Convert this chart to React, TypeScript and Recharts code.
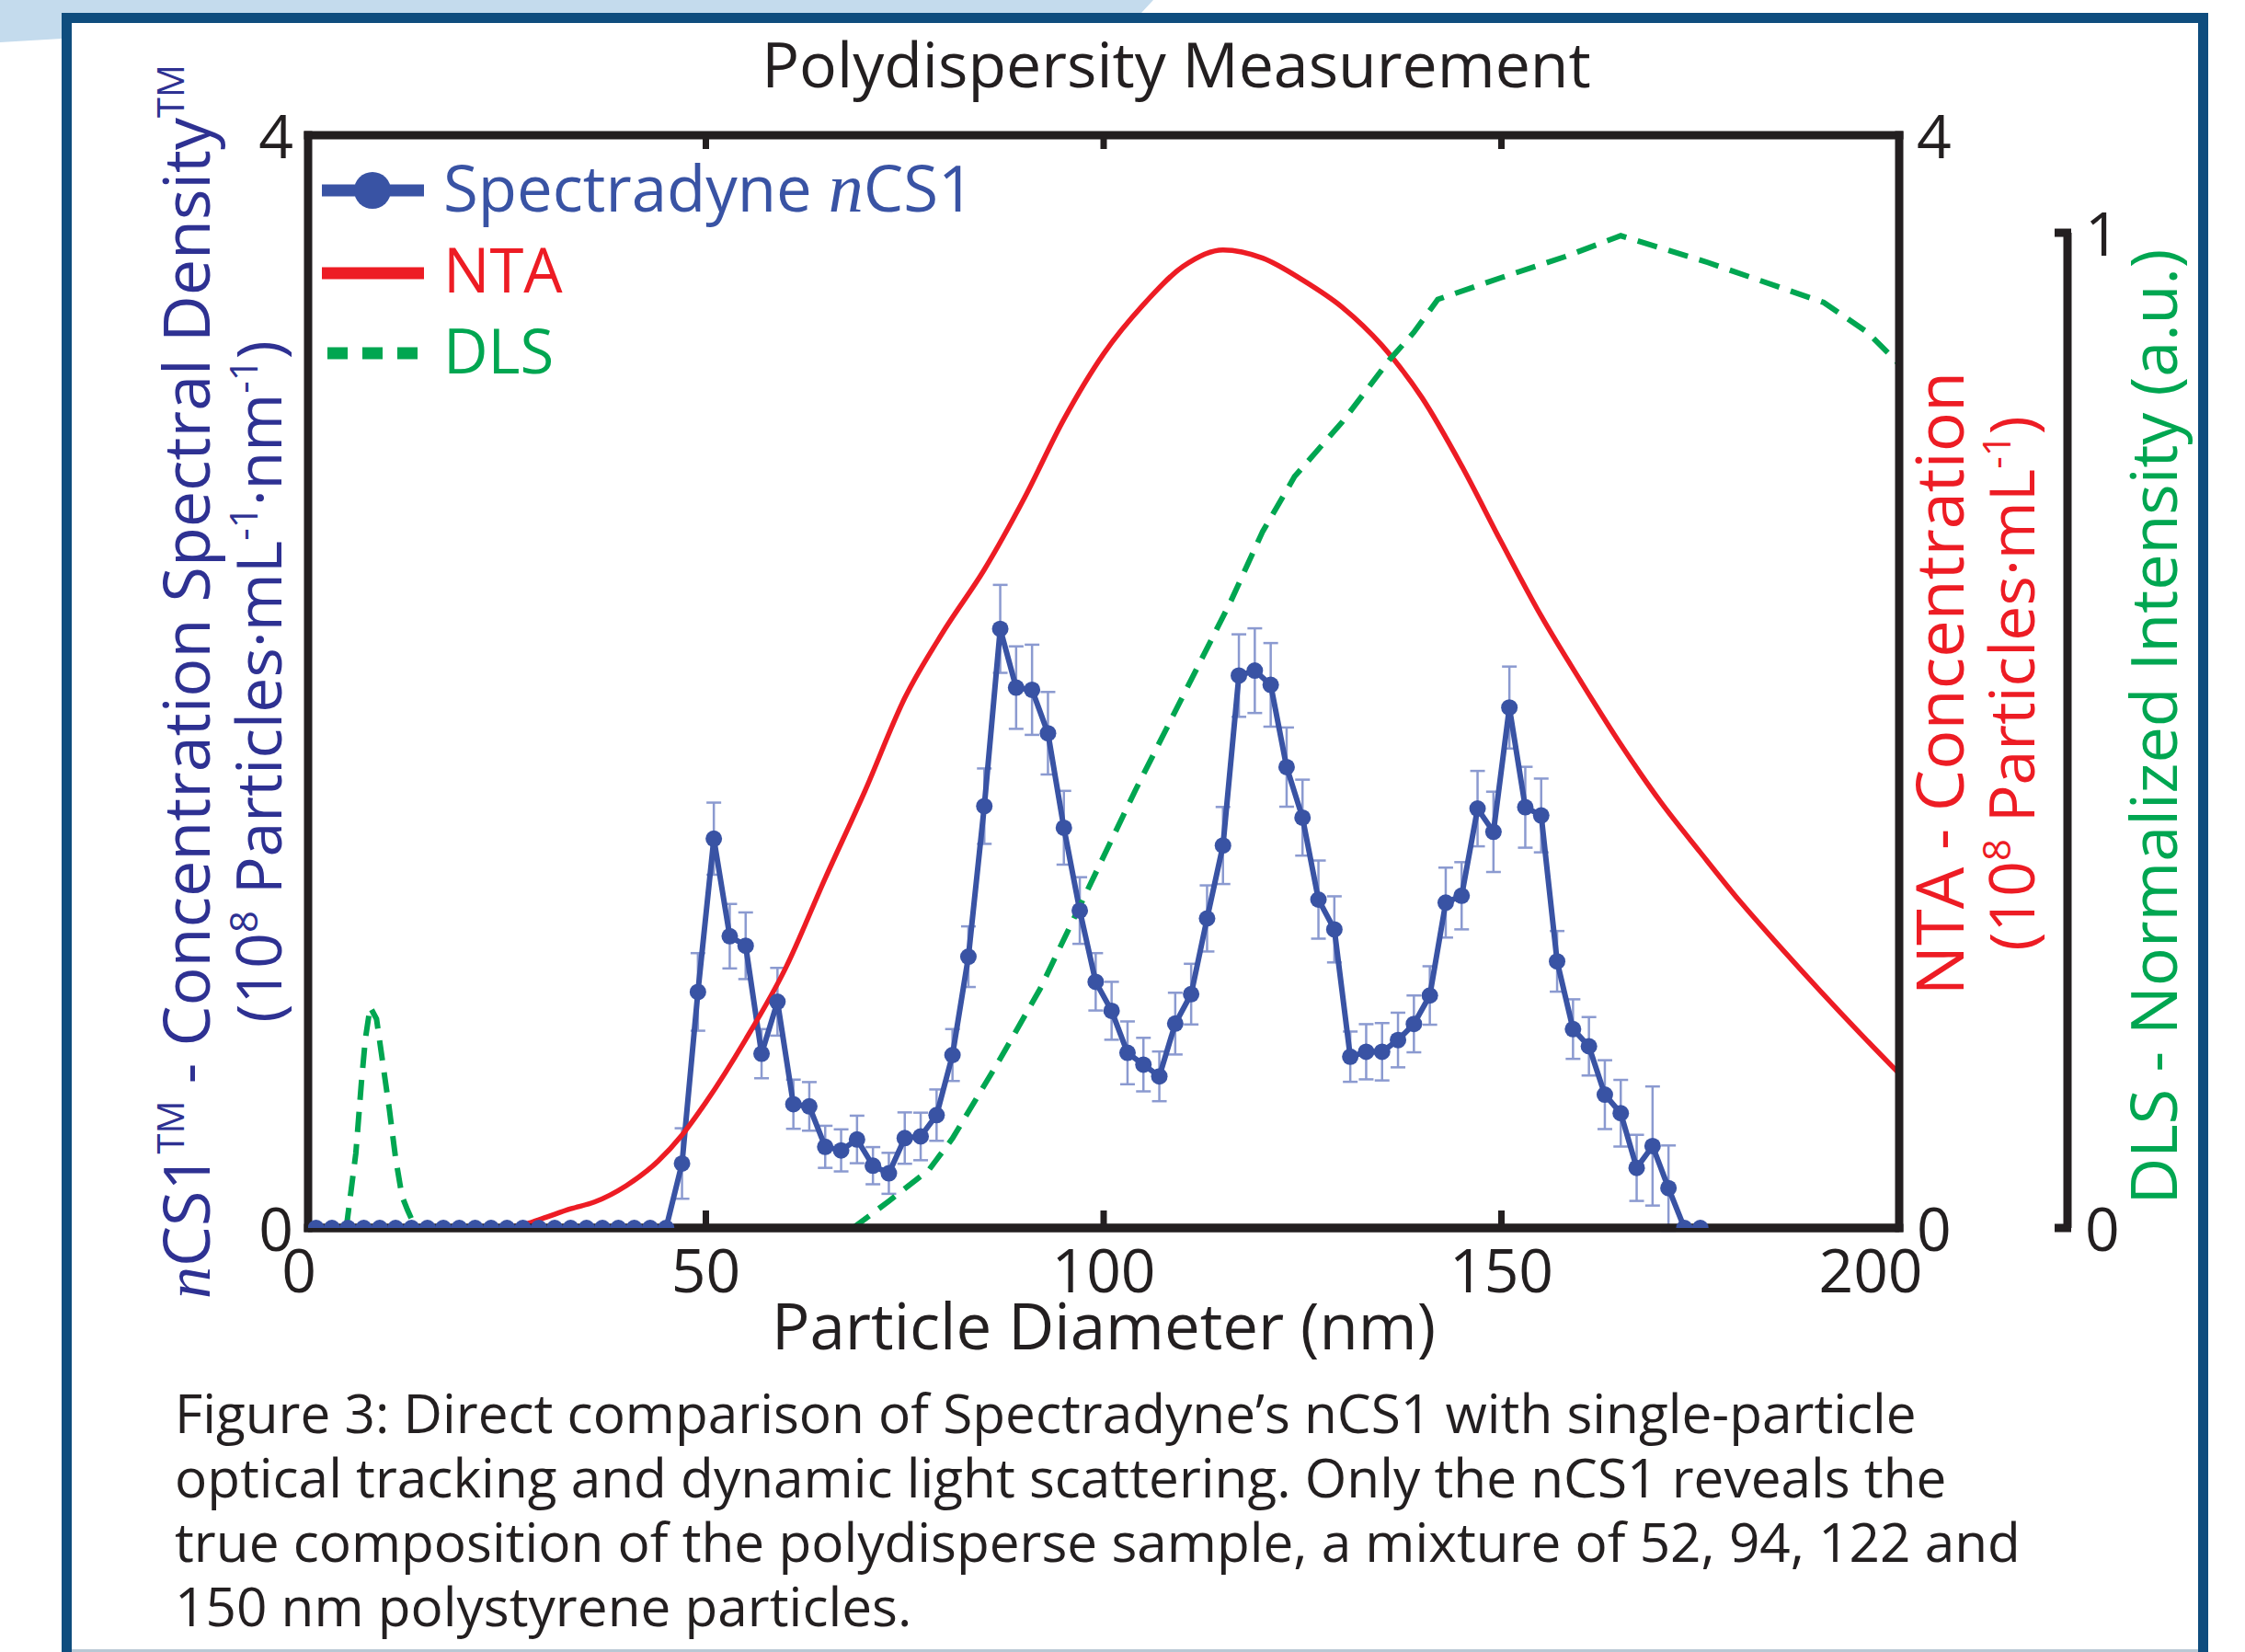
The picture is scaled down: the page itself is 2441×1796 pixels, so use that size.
import React from "react";
import { LineChart, Line, XAxis, YAxis, ErrorBar, Legend, ReferenceLine } from "recharts";

const W = 2441;
const H = 1796;
const FONT = "'Open Sans', 'Noto Sans', sans-serif";
const INK = "#231f20";
const BLUE = "#3953a4";
const NAVY = "#2e3192";
const RED = "#ed1c24";
const GREEN = "#00a651";
const ERR = "#8b9ad0";
const FRAME = "#0f4d7e";

// nCS1 spectral density, 2 nm bins
const ncsDiameter = [
  1, 3, 5, 7, 9, 11, 13, 15, 17, 19, 21, 23, 25, 27, 29, 31, 33, 35, 37, 39, 41, 43, 45,
  47, 49, 51, 53, 55, 57, 59, 61, 63, 65, 67, 69, 71, 73, 75, 77, 79, 81, 83, 85, 87, 89,
  91, 93, 95, 97, 99, 101, 103, 105, 107, 109, 111, 113, 115, 117, 119, 121, 123, 125,
  127, 129, 131, 133, 135, 137, 139, 141, 143, 145, 147, 149, 151, 153, 155, 157, 159,
  161, 163, 165, 167, 169, 171, 173, 175,
];
const ncsValue = [
  0, 0, 0, 0, 0, 0, 0, 0, 0, 0, 0, 0, 0, 0, 0, 0, 0, 0, 0, 0, 0, 0, 0,
  0.236, 0.864, 1.425, 1.068, 1.033, 0.638, 0.828, 0.453, 0.445, 0.297, 0.284, 0.324,
  0.228, 0.2, 0.329, 0.335, 0.413, 0.633, 0.993, 1.544, 2.193, 1.978, 1.97, 1.811,
  1.465, 1.162, 0.901, 0.795, 0.641, 0.598, 0.555, 0.748, 0.856, 1.133, 1.4, 2.022,
  2.04, 1.988, 1.687, 1.502, 1.202, 1.093, 0.627, 0.645, 0.645, 0.688, 0.747, 0.851,
  1.191, 1.216, 1.535, 1.45, 1.905, 1.54, 1.51, 0.976, 0.728, 0.665, 0.488, 0.42,
  0.22, 0.3, 0.146, 0, 0,
];
const ncsError = [
  0, 0, 0, 0, 0, 0, 0, 0, 0, 0, 0, 0, 0, 0, 0, 0, 0, 0, 0, 0, 0, 0, 0,
  0.129, 0.142, 0.132, 0.118, 0.122, 0.09, 0.124, 0.09, 0.089, 0.077, 0.077, 0.087,
  0.068, 0.075, 0.094, 0.087, 0.094, 0.095, 0.111, 0.138, 0.161, 0.151, 0.165, 0.151,
  0.135, 0.122, 0.105, 0.106, 0.115, 0.098, 0.091, 0.113, 0.111, 0.121, 0.141, 0.151,
  0.155, 0.153, 0.145, 0.139, 0.143, 0.121, 0.092, 0.101, 0.105, 0.1, 0.104, 0.107,
  0.128, 0.123, 0.138, 0.147, 0.15, 0.148, 0.135, 0.111, 0.109, 0.107, 0.126, 0.122,
  0.121, 0.218, 0.156, 0, 0,
];

// NTA concentration
const ntaDiameter = [
  25, 28, 30, 33, 36, 40, 44, 47, 50, 55, 60, 65, 70, 75, 80, 85, 90, 95, 100, 105, 110,
  115, 120, 125, 130, 135, 140, 145, 150, 155, 160, 165, 170, 175, 180, 185, 190, 195, 200,
];
const ntaValue = [
  0, 0.02, 0.04, 0.07, 0.095, 0.155, 0.245, 0.34, 0.46, 0.69, 0.95, 1.28, 1.6, 1.94,
  2.19, 2.41, 2.67, 2.96, 3.2, 3.38, 3.52, 3.58, 3.55, 3.47, 3.37, 3.23, 3.04, 2.79,
  2.51, 2.24, 2.0, 1.77, 1.56, 1.375, 1.195, 1.03, 0.87, 0.715, 0.565,
];

// DLS normalized intensity (null splits the two lobes)
const dlsDiameter = [
  4.8, 6, 6.7, 7.2, 7.8, 8.6, 9.4, 10.2, 11, 11.8, 12.5, 13.5, 40, 68.5, 73, 78, 81, 87,
  92, 98, 104, 110, 116, 120, 124, 130, 136, 139, 142, 150, 158, 165, 176, 186.5, 190.5,
  196, 200,
];
const dlsValue = [
  0, 0.075, 0.146, 0.19, 0.222, 0.21, 0.165, 0.12, 0.07, 0.032, 0.018, 0, null, 0, 0.027,
  0.058, 0.09, 0.17, 0.24, 0.34, 0.44, 0.535, 0.63, 0.7, 0.755, 0.81, 0.873, 0.9, 0.933,
  0.955, 0.976, 0.997, 0.97, 0.941, 0.93, 0.9, 0.868,
];

const xTicks = [0, 50, 100, 150, 200];
const xInnerTicks = [50, 100, 150];
const yTicks = [0, 4];
const dlsTicks = [0, 1];
const DLS_TOP = 1.098;

const captionLines = [
  "Figure 3: Direct comparison of Spectradyne\u2019s nCS1 with single-particle",
  "optical tracking and dynamic light scattering. Only the nCS1 reveals the",
  "true composition of the polydisperse sample, a mixture of 52, 94, 122 and",
  "150 nm polystyrene particles.",
];

const axisStyle = { stroke: INK, strokeWidth: 9, strokeLinecap: "square" as const };

const BottomTick = (props: any) => {
  const { x, y, payload } = props;
  const v = payload.value;
  const shift = v === 0 ? -10 : v === 200 ? -31 : 0;
  return (
    <g>
      {v > 0 && v < 200 && (
        <line x1={x} x2={x} y1={y} y2={y - 19} stroke={INK} strokeWidth={7} />
      )}
      <text x={x + shift} y={y + 70} textAnchor="middle" fontSize={66} fontFamily={FONT} fill={INK}>
        {v}
      </text>
    </g>
  );
};

const TopTick = (props: any) => {
  const { x, y } = props;
  return <line x1={x} x2={x} y1={y} y2={y + 15} stroke={INK} strokeWidth={7} />;
};

const LeftTick = (props: any) => {
  const { x, y, payload } = props;
  return (
    <text x={x - 16} y={y + 25} textAnchor="end" fontSize={66} fontFamily={FONT} fill={INK}>
      {payload.value}
    </text>
  );
};

const NtaTick = (props: any) => {
  const { x, y, payload } = props;
  return (
    <text x={x + 19} y={y + 25} textAnchor="start" fontSize={66} fontFamily={FONT} fill={INK}>
      {payload.value}
    </text>
  );
};

const DlsTick = (props: any) => {
  const { x, y, payload } = props;
  return (
    <g>
      <line x1={x - 14} x2={x + 4} y1={y} y2={y} stroke={INK} strokeWidth={9} />
      <text x={x + 19} y={y + 25} textAnchor="start" fontSize={66} fontFamily={FONT} fill={INK}>
        {payload.value}
      </text>
    </g>
  );
};

const renderLegend = () => (
  <svg width={800} height={460} style={{ overflow: "visible" }}>
    <line x1={350} x2={461} y1={207} y2={207} stroke={BLUE} strokeWidth={13} />
    <circle cx={405} cy={207} r={20} fill={BLUE} />
    <text x={482} y={230} fontSize={69} fontFamily={FONT} fill={BLUE}>
      Spectradyne <tspan fontFamily="'Liberation Serif', serif" fontStyle="italic" fontSize={76}>n</tspan>CS1
    </text>
    <line x1={350} x2={461} y1={297} y2={297} stroke={RED} strokeWidth={13} />
    <text x={482} y={318} fontSize={67} fontFamily={FONT} fill={RED}>NTA</text>
    <line x1={356} x2={456} y1={384} y2={384} stroke={GREEN} strokeWidth={13} strokeDasharray="22 16" />
    <text x={482} y={406} fontSize={67} fontFamily={FONT} fill={GREEN}>DLS</text>
  </svg>
);

export default function App() {
  const ncsData = ncsDiameter.map((x, i) => ({ x, y: ncsValue[i], err: ncsError[i] }));
  const ntaData = ntaDiameter.map((x, i) => ({ x, y: ntaValue[i] }));
  const dlsData = dlsDiameter.map((x, i) => ({ x, y: dlsValue[i] }));

  return (
    <div style={{ position: "absolute", left: 0, top: 0, width: W, height: H, background: "#fff", overflow: "hidden" }}>
      {/* page frame */}
      <svg width={W} height={H} style={{ position: "absolute", left: 0, top: 0 }}>
        <polygon points="0,0 1254,0 1241,14 67,14 67,42 0,46" fill="#c4dbed" />
        <rect x={72.5} y={19.5} width={2323} height={1850} fill="#fff" stroke={FRAME} strokeWidth={11} />
        <line x1={78} x2={2390} y1={1794.5} y2={1794.5} stroke="#b9c8d4" strokeWidth={3} />
      </svg>

      <div style={{ position: "absolute", left: 0, top: 0 }}>
        <LineChart width={W} height={H} margin={{ top: 117, right: 0, bottom: 361, left: 0 }}>
          <XAxis
            xAxisId="bottom"
            type="number"
            dataKey="x"
            domain={[0, 200]}
            ticks={xTicks}
            height={100}
            tickSize={0}
            tickMargin={0}
            tickLine={false}
            axisLine={axisStyle}
            tick={BottomTick}
            allowDataOverflow
          />
          <XAxis
            xAxisId="top"
            orientation="top"
            type="number"
            dataKey="x"
            domain={[0, 200]}
            ticks={xInnerTicks}
            height={30}
            tickSize={0}
            tickMargin={0}
            tickLine={false}
            axisLine={axisStyle}
            tick={TopTick}
            allowDataOverflow
          />
          <YAxis
            yAxisId="left"
            domain={[0, 4]}
            ticks={yTicks}
            width={335}
            tickSize={0}
            tickMargin={0}
            tickLine={false}
            axisLine={axisStyle}
            tick={LeftTick}
            allowDataOverflow
          />
          <YAxis
            yAxisId="r2"
            orientation="right"
            domain={[0, DLS_TOP]}
            ticks={dlsTicks}
            width={193}
            tickSize={0}
            tickMargin={0}
            tickLine={false}
            axisLine={{ stroke: INK, strokeWidth: 9, strokeDasharray: "0 106 1300" }}
            tick={DlsTick}
            allowDataOverflow
          />
          <YAxis
            yAxisId="r1"
            orientation="right"
            domain={[0, 4]}
            ticks={yTicks}
            width={183}
            tickSize={0}
            tickMargin={0}
            tickLine={false}
            axisLine={axisStyle}
            tick={NtaTick}
            allowDataOverflow
          />
          <Legend
            content={renderLegend}
            layout="horizontal"
            verticalAlign="middle"
            align="center"
            wrapperStyle={{ position: "absolute", left: 0, top: 0, width: 800, height: 460 }}
          />
          <Line
            data={ncsData}
            xAxisId="bottom"
            yAxisId="left"
            dataKey="y"
            type="linear"
            stroke={BLUE}
            strokeWidth={6}
            dot={{ r: 9, fill: BLUE, stroke: "none", strokeWidth: 0 }}
            activeDot={false}
            isAnimationActive={false}
          >
            <ErrorBar dataKey="err" direction="y" width={8} stroke={ERR} strokeWidth={2.5} />
          </Line>
          <Line
            data={ntaData}
            xAxisId="bottom"
            yAxisId="r1"
            dataKey="y"
            type="monotone"
            stroke={RED}
            strokeWidth={5.5}
            dot={false}
            activeDot={false}
            isAnimationActive={false}
          />
          <Line
            data={dlsData}
            xAxisId="bottom"
            yAxisId="r2"
            dataKey="y"
            type="linear"
            stroke={GREEN}
            strokeWidth={6}
            strokeDasharray="22 13"
            dot={false}
            activeDot={false}
            connectNulls={false}
            isAnimationActive={false}
          />
          <ReferenceLine xAxisId="bottom" yAxisId="left" y={0} stroke={INK} strokeWidth={9} />
        </LineChart>
      </div>

      {/* titles and caption */}
      <svg width={W} height={H} style={{ position: "absolute", left: 0, top: 0, pointerEvents: "none" }}>
        <text x={1279} y={95} textAnchor="middle" fontSize={68} fontFamily={FONT} fill={INK}>
          Polydispersity Measurement
        </text>
        <text x={1200} y={1467} textAnchor="middle" fontSize={69} fontFamily={FONT} fill={INK}>
          Particle Diameter (nm)
        </text>

        <text x={228} y={741} transform="rotate(-90 228 741)" textAnchor="middle" fontSize={70} fontFamily={FONT} fill={NAVY}>
          <tspan fontFamily="'Liberation Serif', serif" fontStyle="italic">n</tspan>CS1
          <tspan dy={-28} fontSize={40}>TM</tspan>
          <tspan dy={28}> - Concentration Spectral Density</tspan>
          <tspan dy={-28} fontSize={40}>TM</tspan>
        </text>
        <text x={306} y={741} transform="rotate(-90 306 741)" textAnchor="middle" fontSize={68} fontFamily={FONT} fill={NAVY}>
          (10<tspan dy={-26} fontSize={42}>8</tspan>
          <tspan dy={26}> Particles·mL</tspan>
          <tspan dy={-26} fontSize={42}>-1</tspan>
          <tspan dy={26}>·nm</tspan>
          <tspan dy={-26} fontSize={42}>-1</tspan>
          <tspan dy={26}>)</tspan>
        </text>

        <text x={2135} y={743} transform="rotate(-90 2135 743)" textAnchor="middle" fontSize={72} fontFamily={FONT} fill={RED}>
          NTA - Concentration
        </text>
        <text x={2212} y={743} transform="rotate(-90 2212 743)" textAnchor="middle" fontSize={68} fontFamily={FONT} fill={RED}>
          (10<tspan dy={-26} fontSize={42}>8</tspan>
          <tspan dy={26}> Particles·mL</tspan>
          <tspan dy={-26} fontSize={42}>-1</tspan>
          <tspan dy={26}>)</tspan>
        </text>
        <text x={2367} y={790} transform="rotate(-90 2367 790)" textAnchor="middle" fontSize={70} fontFamily={FONT} fill={GREEN}>
          DLS - Normalized Intensity (a.u.)
        </text>

        {captionLines.map((line, i) => (
          <text key={i} x={190} y={1558 + i * 70} fontSize={58.5} fontFamily={FONT} fill={INK}>
            {line}
          </text>
        ))}
      </svg>
    </div>
  );
}
